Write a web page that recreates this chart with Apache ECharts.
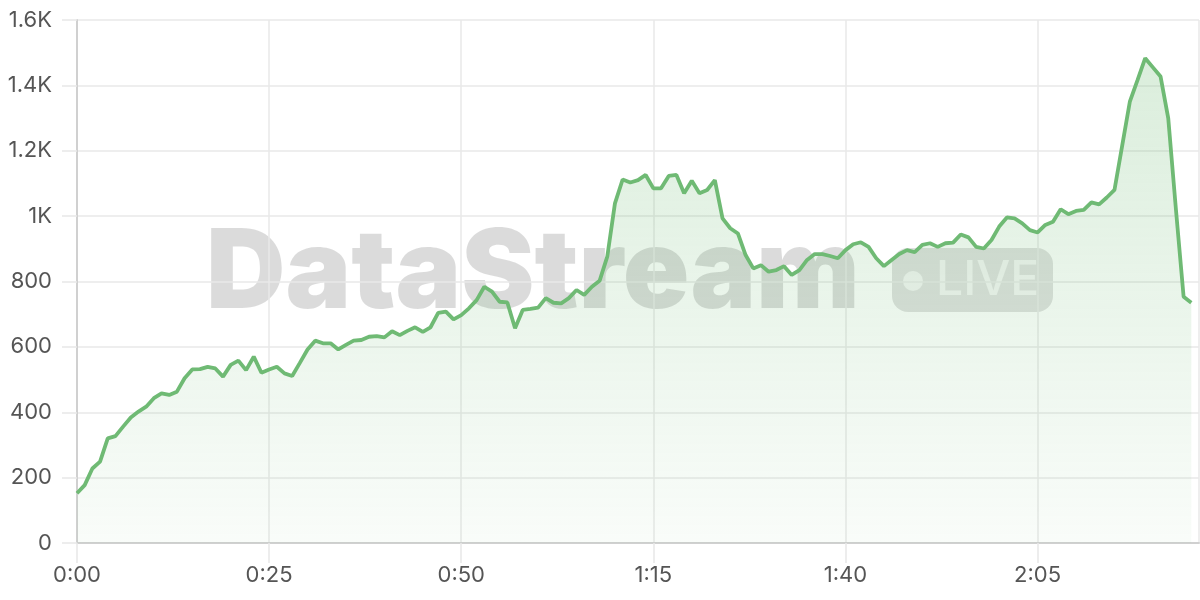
<!DOCTYPE html>
<html><head><meta charset="utf-8">
<script src="https://cdn.jsdelivr.net/npm/echarts@6/dist/echarts.min.js"></script>
<style>html,body{margin:0;padding:0;background:#fff}#c{width:1200px;height:600px}</style>
</head><body><div id="c"></div>
<script>
// minutes elapsed (0..145)
const minutes = Array.from({length:146}, (_, i) => i);
const viewers = [
152,177,228,249,320,327,356,384,402,417,
443,458,453,463,504,531,532,539,534,509,
545,558,529,570,521,531,539,519,511,551,
592,619,611,611,592,606,619,621,631,633,
629,648,636,649,660,646,660,704,708,684,
697,718,743,784,769,738,736,657,713,716,
720,749,735,733,749,774,759,784,802,876,
1039,1112,1103,1110,1126,1085,1085,1123,1126,1070,
1108,1070,1080,1110,993,963,947,881,840,850,
830,835,847,820,835,866,884,884,878,871,
896,914,920,906,871,847,866,884,896,890,
912,917,906,917,919,944,935,906,901,927,
968,996,993,978,957,950,973,983,1021,1006,
1016,1019,1042,1036,1057,1080,1215,1350,1416,1483,
1455,1427,1299,1020,753,735
];
const yTicks = [0,200,400,600,800,1000,1200,1400,1600];
const xTickStep = 25;
const watermarkText = 'DataStream';
const badgeText = 'LIVE';

const chart = echarts.init(document.getElementById('c'));
const fontFamily = 'Inter, "Noto Sans", sans-serif';
const green = '#6fba74';
chart.setOption({
  animation: false,
  grid: {left: 77, right: 1, top: 20, bottom: 57},
  xAxis: {
    type: 'value', min: 0, max: 146, interval: xTickStep,
    axisLine: {show: true, lineStyle: {color: '#d0d0d0', width: 2}},
    axisTick: {show: true, length: 20, lineStyle: {color: '#e8e8e8', width: 1.5}},
    splitLine: {show: true, lineStyle: {color: '#e8e8e8', width: 1.5}},
    axisLabel: {
      margin: 21, fontSize: 22, color: '#555', fontFamily,
      showMaxLabel: false,
      formatter: v => (v % xTickStep === 0) ? (Math.floor(v/60) + ':' + String(v%60).padStart(2,'0')) : ''
    }
  },
  yAxis: {
    type: 'value', min: yTicks[0], max: yTicks[yTicks.length-1], interval: yTicks[1]-yTicks[0],
    axisLine: {show: true, lineStyle: {color: '#d0d0d0', width: 2}},
    axisTick: {show: true, length: 15, lineStyle: {color: '#e8e8e8', width: 1.5}},
    splitLine: {show: true, lineStyle: {color: '#e8e8e8', width: 1.5}},
    axisLabel: {
      margin: 25, fontSize: 22, color: '#555', fontFamily,
      formatter: v => v >= 1000 ? (v/1000) + 'K' : String(v)
    }
  },
  graphic: [
    {type: 'text', z: 0, silent: true,
     style: {text: watermarkText, x: 206, y: 275, fill: 'rgba(0,0,0,0.14)',
       font: '900 110px Inter, "DejaVu Sans", sans-serif', textAlign: 'left', verticalAlign: 'middle'}},
    {type: 'rect', z: 0, silent: true,
     shape: {x: 892, y: 248, width: 161, height: 64, r: 16},
     style: {fill: 'rgba(0,0,0,0.12)'}},
    {type: 'circle', z: 0, silent: true,
     shape: {cx: 913, cy: 281, r: 10},
     style: {fill: 'rgba(255,255,255,0.65)'}},
    {type: 'text', z: 0, silent: true,
     style: {text: badgeText, x: 936, y: 281, fill: 'rgba(255,255,255,0.65)',
       font: '500 48px Inter, "DejaVu Sans", sans-serif', textAlign: 'left', verticalAlign: 'middle'}}
  ],
  series: [{
    type: 'line', data: minutes.map((m, i) => [m, viewers[i]]),
    showSymbol: false, symbol: 'none', z: 3,
    lineStyle: {color: green, width: 3.8},
    areaStyle: {color: new echarts.graphic.LinearGradient(0,0,0,1,[
      {offset: 0, color: 'rgba(111,186,116,0.36)'},
      {offset: 1, color: 'rgba(111,186,116,0.06)'}
    ])}
  }]
});
</script></body></html>
